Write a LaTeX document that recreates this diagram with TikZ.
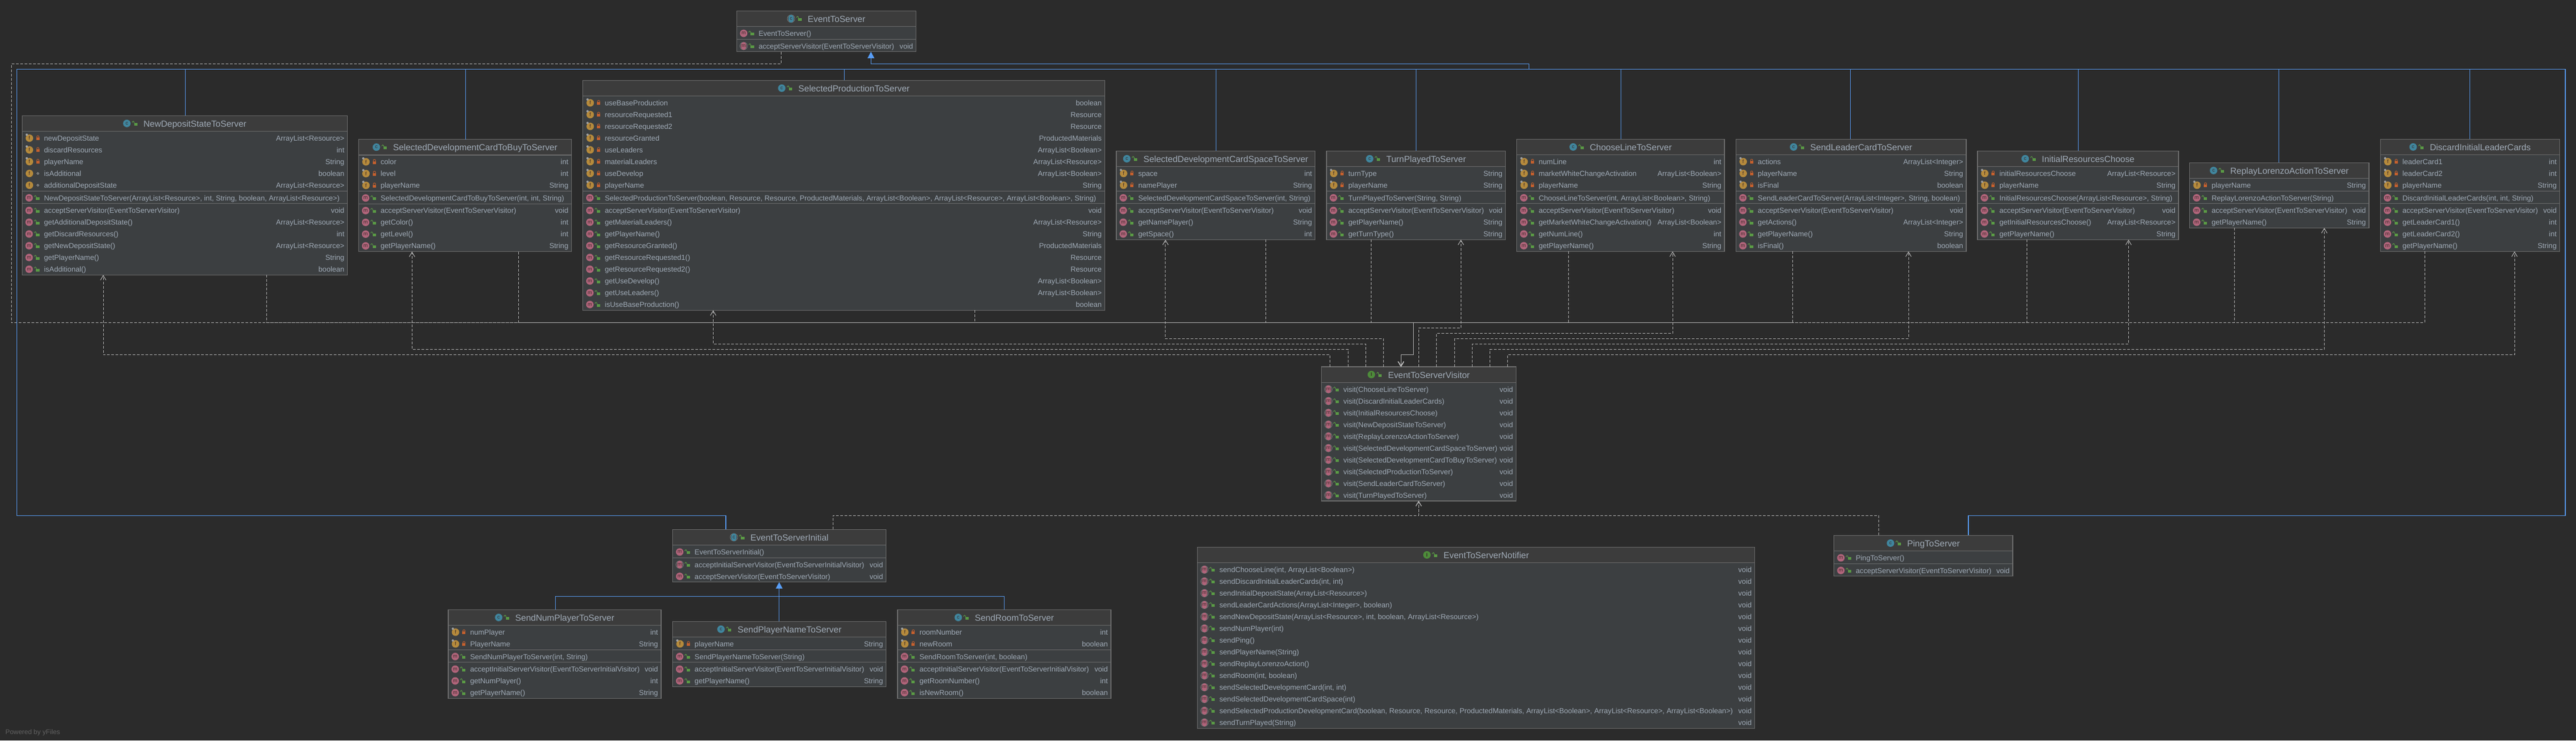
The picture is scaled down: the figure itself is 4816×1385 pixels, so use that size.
\documentclass[tikz,border=0pt]{standalone}
\usepackage{fontspec}
\setmainfont{Liberation Sans}
\usetikzlibrary{arrows.meta}
\definecolor{bgc}{HTML}{2B2B2B}
\definecolor{bodyc}{HTML}{3C3F41}
\definecolor{hdrc}{HTML}{3C3C3C}
\definecolor{edgec}{HTML}{6E6E6E}
\definecolor{txtc}{HTML}{A0ABB7}
\definecolor{bluec}{HTML}{589DF6}
\definecolor{depc}{HTML}{BBBBBB}
\definecolor{micon}{HTML}{B0647A}
\definecolor{cicon}{HTML}{40859D}
\definecolor{ficon}{HTML}{B58A3C}
\definecolor{iicon}{HTML}{4D8B3A}
\definecolor{lockg}{HTML}{5A9A45}
\definecolor{locko}{HTML}{C4602E}
\definecolor{icontxt}{HTML}{3A2A2A}
\definecolor{yfc}{HTML}{626262}
\tikzset{
  clsbox/.style={draw=edgec,fill=bodyc,line width=1.2pt,inner sep=0pt,outer sep=0pt,anchor=north west},
  rowl/.style={font=\fontsize{13.6}{16}\selectfont,text=txtc,inner sep=0pt,anchor=base west},
  rowr/.style={font=\fontsize{13.6}{16}\selectfont,text=txtc,inner sep=0pt,anchor=base east},
  ttl/.style={font=\fontsize{16.4}{18}\selectfont,text=txtc,inner sep=0pt,anchor=base},
  ilet/.style={font=\fontsize{9.5}{10}\selectfont,text=icontxt,inner sep=0pt,anchor=center},
  depl/.style={draw=depc,line width=1pt,dash pattern=on 5pt off 3pt},
  depa/.style={depl,-{Straight Barb[length=8.7pt,width=10.5pt,line width=1pt]}},
  inh/.style={draw=bluec,line width=1pt},
  inha/.style={draw=bluec,line width=1.3pt,-{Triangle[length=12pt,width=12.5pt,fill=bluec]}},
  bus/.style={draw=bluec,line width=1.5pt}
}
\newcount\rc
\newdimen\tdim
% icons
\newcommand\icn[4]{% x,y,colour,letter
  \global\advance\rc by 1
  \fill[#3] (#1,#2) circle[radius=7];
  \node[ilet] (i\the\rc) at (#1,#2) {#4};}
\newcommand\icnabs[4]{%
  \global\advance\rc by 1
  \draw[gray,line width=.8pt] (#1,#2) circle[radius=7];
  \fill[#3] (#1,#2) ellipse[x radius=5.2,y radius=7.3];
  \node[ilet] (i\the\rc) at (#1,#2) {#4};}
\newcommand\publock[2]{%
  \fill[lockg] (#1-2.6,#2-1) rectangle (#1+3.6,#2+4);
  \draw[lockg,line width=1pt] (#1-2.4,#2-.8) -- (#1-2.4,#2-2.6) arc[start angle=0,end angle=-180,radius=1.7] -- (#1-5.8,#2-1.6);}
\newcommand\prilock[2]{%
  \fill[locko] (#1-3,#2-1) rectangle (#1+3,#2+4);
  \draw[locko,line width=1pt] (#1-2,#2-.8) -- (#1-2,#2-2.6) arc[start angle=180,end angle=360,radius=2] -- (#1+2,#2-.8);}
\newcommand\pkgmark[2]{\draw[gray!80,line width=1pt] (#1,#2) circle[radius=1.9];}
% id,left,top,right,title,icon(c/a/I),f,c,m
\newcommand\cls[9]{%
  \pgfmathsetmacro\hF{#7>0 ? #7*22+1.6 : 0}%
  \pgfmathsetmacro\hC{#8>0 ? #8*22+1.6 : 0}%
  \pgfmathsetmacro\hM{#9>0 ? #9*22+1.6 : 0}%
  \pgfmathsetmacro\cw{#4-#2}%
  \pgfmathsetmacro\ch{29.3+\hF+\hC+\hM}%
  \node[clsbox,minimum width=\cw pt,minimum height=\ch pt] (#1) at (#2,#3) {};
  \fill[hdrc] (#2+.6,#3+.6) rectangle (#4-.6,#3+28.7);
  \draw[edgec,line width=1.2pt] (#2,#3+29.3) -- (#4,#3+29.3);
  \pgfmathsetmacro\yA{#3+29.3+\hF}%
  \pgfmathsetmacro\yB{\yA+\hC}%
  \ifnum#7>0\relax \ifnum\numexpr#8+#9\relax>0\relax \draw[edgec,line width=1.2pt] (#2,\yA) -- (#4,\yA);\fi\fi
  \ifnum#8>0\relax \ifnum#9>0\relax \draw[edgec,line width=1.2pt] (#2,\yB) -- (#4,\yB);\fi\fi
  \edef\cL{#2}\edef\cR{#4}%
  \pgfmathsetmacro\fy{#3+29.3+12.8}%
  \pgfmathsetmacro\cy{\yA+12.8}%
  \pgfmathsetmacro\my{\yB+12.8}%
  \global\advance\rc by 1
  \pgfmathsetmacro\tcx{(#2+#4)/2+19}%
  \node[ttl] (t\the\rc) at (\tcx,#3+21) {#5};
  \pgfextractx\tdim{\pgfpointanchor{t\the\rc}{base west}}%
  \pgfmathsetmacro\tx{\tdim-38}%
  \pgfmathsetmacro\ty{#3+14.6}%
  \def\kind{#6}\def\kc{c}\def\ka{a}%
  \ifx\kind\kc \icn{\tx+7}{\ty}{cicon}{c}\else
  \ifx\kind\ka \icnabs{\tx+7}{\ty}{cicon}{c}\else
  \icn{\tx+7}{\ty}{iicon}{\textbf{I}}\fi\fi
  \publock{\tx+23}{\ty}
}
\newcommand\rowtxt[3]{% y,left,right
  \global\advance\rc by 1
  \node[rowl] (l\the\rc) at (\cL+40.8,#1+5) {#2};
  \node[rowr] (x\the\rc) at (\cR-5.6,#1+5) {#3};}
\newcommand\fpin[1]{\fill[gray!75] (\cL+8.6,#1-6.4) circle[radius=2.2];}
\newcommand\rF[2]{% private field with pin
  \icn{\cL+13.6}{\fy}{ficon}{f}\fpin{\fy}\prilock{\cL+29.4}{\fy}\rowtxt{\fy}{#1}{#2}%
  \pgfmathsetmacro\fy{\fy+22}}
\newcommand\rP[2]{% package field
  \icn{\cL+13.6}{\fy}{ficon}{f}\pkgmark{\cL+29.4}{\fy}\rowtxt{\fy}{#1}{#2}%
  \pgfmathsetmacro\fy{\fy+22}}
\newcommand\rC[1]{%
  \icn{\cL+13}{\cy}{micon}{m}\publock{\cL+28.6}{\cy}\rowtxt{\cy}{#1}{}%
  \pgfmathsetmacro\cy{\cy+22}}
\newcommand\rM[2]{%
  \icn{\cL+13}{\my}{micon}{m}\publock{\cL+28.6}{\my}\rowtxt{\my}{#1}{#2}%
  \pgfmathsetmacro\my{\my+22}}
\newcommand\rA[2]{%
  \icnabs{\cL+13}{\my}{micon}{m}\publock{\cL+28.6}{\my}\rowtxt{\my}{#1}{#2}%
  \pgfmathsetmacro\my{\my+22}}
% dependency class -> visitor
\newcommand\toV[2]{\draw[depa] (#2,0 |- #1.south) -- (#2,603.5) -- (2642.4,603.5) -- (2642.4,663.3) -- (2619.2,663.3) -- (2619.2,0 |- V.north);}
% dependency visitor -> class
\newcommand\fromV[4]{\draw[depa] (#1,0 |- V.north) -- (#1,#2) -- (#3,#2) -- (#3,0 |- #4.south);}
\newcommand\stub[2]{\draw[inh] (#2,0 |- #1.north) -- (#2,129.3);}
\begin{document}
\begin{tikzpicture}[x=1pt,y=-1pt]
\useasboundingbox (0,0) rectangle (4816,1385);
\fill[bgc] (0,0) rectangle (4816,1385);
% ---- classes
\cls{EV}{1377.3}{20.3}{1712.7}{EventToServer}{a}{0}{1}{1}
\rC{EventToServer()}
\rA{acceptServerVisitor(EventToServerVisitor)}{void}

\cls{ND}{41.4}{216.3}{649.6}{NewDepositStateToServer}{c}{5}{1}{6}
\rF{newDepositState}{ArrayList<Resource>}
\rF{discardResources}{int}
\rF{playerName}{String}
\rP{isAdditional}{boolean}
\rP{additionalDepositState}{ArrayList<Resource>}
\rC{NewDepositStateToServer(ArrayList<Resource>, int, String, boolean, ArrayList<Resource>)}
\rM{acceptServerVisitor(EventToServerVisitor)}{void}
\rM{getAdditionalDepositState()}{ArrayList<Resource>}
\rM{getDiscardResources()}{int}
\rM{getNewDepositState()}{ArrayList<Resource>}
\rM{getPlayerName()}{String}
\rM{isAdditional()}{boolean}

\cls{BUY}{670.6}{260.6}{1068.4}{SelectedDevelopmentCardToBuyToServer}{c}{3}{1}{4}
\rF{color}{int}
\rF{level}{int}
\rF{playerName}{String}
\rC{SelectedDevelopmentCardToBuyToServer(int, int, String)}
\rM{acceptServerVisitor(EventToServerVisitor)}{void}
\rM{getColor()}{int}
\rM{getLevel()}{int}
\rM{getPlayerName()}{String}

\cls{PROD}{1089.8}{150.3}{2065.5}{SelectedProductionToServer}{c}{8}{1}{9}
\rF{useBaseProduction}{boolean}
\rF{resourceRequested1}{Resource}
\rF{resourceRequested2}{Resource}
\rF{resourceGranted}{ProductedMaterials}
\rF{useLeaders}{ArrayList<Boolean>}
\rF{materialLeaders}{ArrayList<Resource>}
\rF{useDevelop}{ArrayList<Boolean>}
\rF{playerName}{String}
\rC{SelectedProductionToServer(boolean, Resource, Resource, ProductedMaterials, ArrayList<Boolean>, ArrayList<Resource>, ArrayList<Boolean>, String)}
\rM{acceptServerVisitor(EventToServerVisitor)}{void}
\rM{getMaterialLeaders()}{ArrayList<Resource>}
\rM{getPlayerName()}{String}
\rM{getResourceGranted()}{ProductedMaterials}
\rM{getResourceRequested1()}{Resource}
\rM{getResourceRequested2()}{Resource}
\rM{getUseDevelop()}{ArrayList<Boolean>}
\rM{getUseLeaders()}{ArrayList<Boolean>}
\rM{isUseBaseProduction()}{boolean}

\cls{SPACE}{2087}{282.3}{2458.8}{SelectedDevelopmentCardSpaceToServer}{c}{2}{1}{3}
\rF{space}{int}
\rF{namePlayer}{String}
\rC{SelectedDevelopmentCardSpaceToServer(int, String)}
\rM{acceptServerVisitor(EventToServerVisitor)}{void}
\rM{getNamePlayer()}{String}
\rM{getSpace()}{int}

\cls{TURN}{2479.9}{282.3}{2814.7}{TurnPlayedToServer}{c}{2}{1}{3}
\rF{turnType}{String}
\rF{playerName}{String}
\rC{TurnPlayedToServer(String, String)}
\rM{acceptServerVisitor(EventToServerVisitor)}{void}
\rM{getPlayerName()}{String}
\rM{getTurnType()}{String}

\cls{LINE}{2835.8}{260.3}{3224}{ChooseLineToServer}{c}{3}{1}{4}
\rF{numLine}{int}
\rF{marketWhiteChangeActivation}{ArrayList<Boolean>}
\rF{playerName}{String}
\rC{ChooseLineToServer(int, ArrayList<Boolean>, String)}
\rM{acceptServerVisitor(EventToServerVisitor)}{void}
\rM{getMarketWhiteChangeActivation()}{ArrayList<Boolean>}
\rM{getNumLine()}{int}
\rM{getPlayerName()}{String}

\cls{LEAD}{3245.4}{260.3}{3676}{SendLeaderCardToServer}{c}{3}{1}{4}
\rF{actions}{ArrayList<Integer>}
\rF{playerName}{String}
\rF{isFinal}{boolean}
\rC{SendLeaderCardToServer(ArrayList<Integer>, String, boolean)}
\rM{acceptServerVisitor(EventToServerVisitor)}{void}
\rM{getActions()}{ArrayList<Integer>}
\rM{getPlayerName()}{String}
\rM{isFinal()}{boolean}

\cls{INIT}{3697}{282.3}{4073}{InitialResourcesChoose}{c}{2}{1}{3}
\rF{initialResourcesChoose}{ArrayList<Resource>}
\rF{playerName}{String}
\rC{InitialResourcesChoose(ArrayList<Resource>, String)}
\rM{acceptServerVisitor(EventToServerVisitor)}{void}
\rM{getInitialResourcesChoose()}{ArrayList<Resource>}
\rM{getPlayerName()}{String}

\cls{REP}{4093.8}{304.3}{4428.9}{ReplayLorenzoActionToServer}{c}{1}{1}{2}
\rF{playerName}{String}
\rC{ReplayLorenzoActionToServer(String)}
\rM{acceptServerVisitor(EventToServerVisitor)}{void}
\rM{getPlayerName()}{String}

\cls{DISC}{4450.5}{260.3}{4785.6}{DiscardInitialLeaderCards}{c}{3}{1}{4}
\rF{leaderCard1}{int}
\rF{leaderCard2}{int}
\rF{playerName}{String}
\rC{DiscardInitialLeaderCards(int, int, String)}
\rM{acceptServerVisitor(EventToServerVisitor)}{void}
\rM{getLeaderCard1()}{int}
\rM{getLeaderCard2()}{int}
\rM{getPlayerName()}{String}

\cls{V}{2470.5}{686}{2834.4}{EventToServerVisitor}{I}{0}{0}{10}
\rA{visit(ChooseLineToServer)}{void}
\rA{visit(DiscardInitialLeaderCards)}{void}
\rA{visit(InitialResourcesChoose)}{void}
\rA{visit(NewDepositStateToServer)}{void}
\rA{visit(ReplayLorenzoActionToServer)}{void}
\rA{visit(SelectedDevelopmentCardSpaceToServer)}{void}
\rA{visit(SelectedDevelopmentCardToBuyToServer)}{void}
\rA{visit(SelectedProductionToServer)}{void}
\rA{visit(SendLeaderCardToServer)}{void}
\rA{visit(TurnPlayedToServer)}{void}

\cls{EI}{1257.7}{990.3}{1656.6}{EventToServerInitial}{a}{0}{1}{2}
\rC{EventToServerInitial()}
\rA{acceptInitialServerVisitor(EventToServerInitialVisitor)}{void}
\rM{acceptServerVisitor(EventToServerVisitor)}{void}

\cls{NUM}{838}{1140.3}{1236}{SendNumPlayerToServer}{c}{2}{1}{3}
\rF{numPlayer}{int}
\rF{PlayerName}{String}
\rC{SendNumPlayerToServer(int, String)}
\rM{acceptInitialServerVisitor(EventToServerInitialVisitor)}{void}
\rM{getNumPlayer()}{int}
\rM{getPlayerName()}{String}

\cls{NAME}{1257.7}{1162.3}{1656.6}{SendPlayerNameToServer}{c}{1}{1}{2}
\rF{playerName}{String}
\rC{SendPlayerNameToServer(String)}
\rM{acceptInitialServerVisitor(EventToServerInitialVisitor)}{void}
\rM{getPlayerName()}{String}

\cls{ROOM}{1678}{1140.3}{2077}{SendRoomToServer}{c}{2}{1}{3}
\rF{roomNumber}{int}
\rF{newRoom}{boolean}
\rC{SendRoomToServer(int, boolean)}
\rM{acceptInitialServerVisitor(EventToServerInitialVisitor)}{void}
\rM{getRoomNumber()}{int}
\rM{isNewRoom()}{boolean}

\cls{NOT}{2238.8}{1023.3}{3280.6}{EventToServerNotifier}{I}{0}{0}{14}
\rA{sendChooseLine(int, ArrayList<Boolean>)}{void}
\rA{sendDiscardInitialLeaderCards(int, int)}{void}
\rA{sendInitialDepositState(ArrayList<Resource>)}{void}
\rA{sendLeaderCardActions(ArrayList<Integer>, boolean)}{void}
\rA{sendNewDepositState(ArrayList<Resource>, int, boolean, ArrayList<Resource>)}{void}
\rA{sendNumPlayer(int)}{void}
\rA{sendPing()}{void}
\rA{sendPlayerName(String)}{void}
\rA{sendReplayLorenzoAction()}{void}
\rA{sendRoom(int, boolean)}{void}
\rA{sendSelectedDevelopmentCard(int, int)}{void}
\rA{sendSelectedDevelopmentCardSpace(int)}{void}
\rA{sendSelectedProductionDevelopmentCard(boolean, Resource, Resource, ProductedMaterials, ArrayList<Boolean>, ArrayList<Resource>, ArrayList<Boolean>)}{void}
\rA{sendTurnPlayed(String)}{void}

\cls{PING}{3428.6}{1001.3}{3763}{PingToServer}{c}{0}{1}{1}
\rC{PingToServer()}
\rM{acceptServerVisitor(EventToServerVisitor)}{void}

% ---- dashed: classes to the visitor
\draw[depa] (1460.3,0 |- EV.south) -- (1460.3,119.4) -- (21,119.4) -- (21,603.5) -- (2642.4,603.5) -- (2642.4,663.3) -- (2619.2,663.3) -- (2619.2,0 |- V.north);
\toV{ND}{498}
\toV{BUY}{969.5}
\toV{PROD}{1822}
\toV{SPACE}{2366.2}
\toV{TURN}{2563.4}
\toV{LINE}{2932}
\toV{LEAD}{3351.5}
\toV{INIT}{3789.7}
\toV{REP}{4177.3}
\toV{DISC}{4533}
% ---- dashed: visitor to the classes
\fromV{2486.6}{663.5}{193}{ND}
\fromV{2520.5}{653.5}{770.3}{BUY}
\fromV{2553.6}{643.5}{1333.3}{PROD}
\fromV{2586.6}{633.3}{2178.9}{SPACE}
\fromV{2652.2}{613.3}{2731.2}{TURN}
\fromV{2685.3}{623.3}{3127}{LINE}
\fromV{2719.6}{633.3}{3568}{LEAD}
\fromV{2752.2}{643.3}{3979.4}{INIT}
\fromV{2785.3}{653.5}{4345.4}{REP}
\fromV{2818.3}{663.5}{4701}{DISC}
\draw[depa] (1557,0 |- EI.north) -- (1557,964.3) -- (2652.2,964.3) -- (2652.2,0 |- V.south);
\draw[depa] (3512,0 |- PING.north) -- (3512,964.3) -- (2652.2,964.3) -- (2652.2,0 |- V.south);
% ---- blue: inheritance
\draw[inha] (2858.3,129.3) -- (2858.3,119.5) -- (1628.3,119.5) -- (1628.3,0 |- EV.south);
\draw[bus] (1357,0 |- EI.north) -- (1357,964.5) -- (31.6,964.5) -- (31.6,129.3) -- (4796,129.3) -- (4796,964.5) -- (3680,964.5) -- (3680,0 |- PING.north);
\stub{ND}{346.5}
\stub{BUY}{870.6}
\stub{PROD}{1578}
\stub{SPACE}{2273}
\stub{TURN}{2647}
\stub{LINE}{3030}
\stub{LEAD}{3459.8}
\stub{INIT}{3885.6}
\stub{REP}{4260.8}
\stub{DISC}{4617.5}
\draw[inha] (1456.7,0 |- NAME.north) -- (1456.7,0 |- EI.south);
\draw[inh] (1038,0 |- NUM.north) -- (1038,1115.3) -- (1877,1115.3) -- (1877,0 |- ROOM.north);

\node[font=\fontsize{12.5}{14}\selectfont,text=yfc,inner sep=0pt,anchor=base west] (yf) at (10,1373) {Powered by yFiles};
\end{tikzpicture}
\end{document}
